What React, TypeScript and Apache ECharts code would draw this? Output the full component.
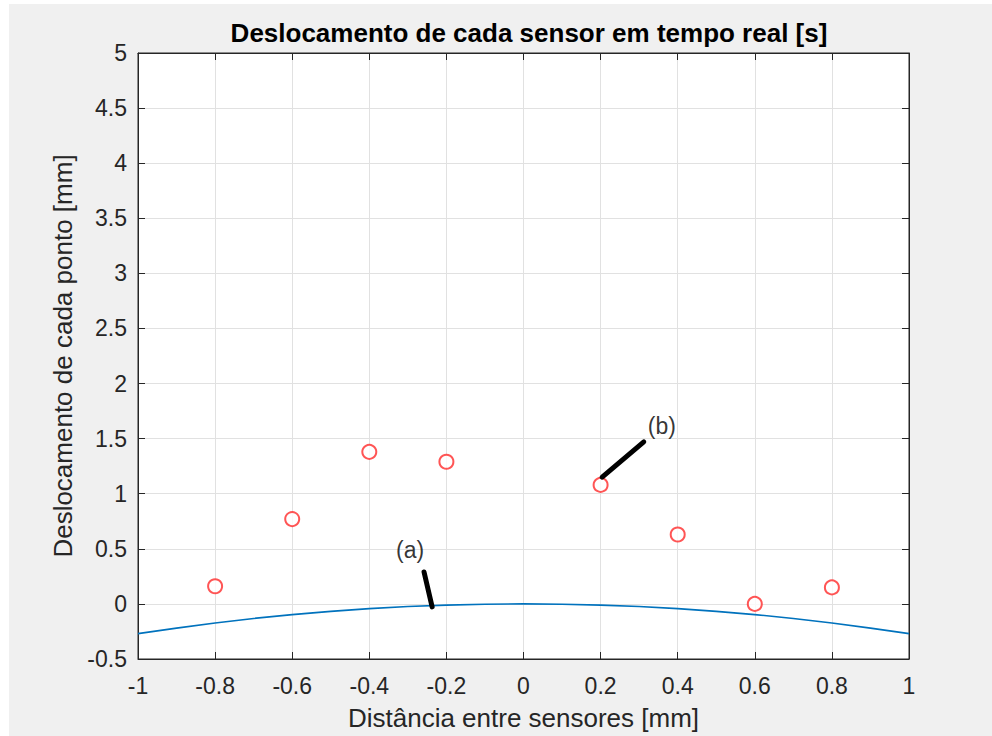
import React, { useEffect, useRef } from "react";
import * as echarts from "echarts";

const sensorX = [-0.8, -0.6, -0.4, -0.2, 0.2, 0.4, 0.6, 0.8];
const sensorY = [0.16, 0.77, 1.38, 1.29, 1.08, 0.63, 0.0, 0.15];

const curveX = [-1, -0.9, -0.8, -0.7, -0.6, -0.5, -0.4, -0.3, -0.2, -0.1, 0, 0.1, 0.2, 0.3, 0.4, 0.5, 0.6, 0.7, 0.8, 0.9, 1];
const curveY = [-0.27, -0.22, -0.173, -0.132, -0.097, -0.068, -0.043, -0.024, -0.011, -0.003, 0, -0.003, -0.011, -0.024, -0.043, -0.068, -0.097, -0.132, -0.173, -0.22, -0.27];

const arrowA = [[-0.258, 0.29], [-0.237, -0.027]];
const arrowB = [[0.204, 1.15], [0.312, 1.47]];
const labelA = { text: "(a)", x: -0.294, y: 0.49 };
const labelB = { text: "(b)", x: 0.359, y: 1.615 };

const FONT = "Liberation Sans, Arial, Helvetica, sans-serif";

export default function App() {
  const ref = useRef<HTMLDivElement>(null);
  useEffect(() => {
    if (!ref.current) return;
    const chart = echarts.init(ref.current, undefined, { renderer: "svg" });
    const axisCommon = {
      type: "value",
      axisLine: { show: true, onZero: false, lineStyle: { color: "#262626", width: 1 } },
      axisTick: { show: true, inside: true, length: 7, lineStyle: { color: "#262626" } },
    };
    const fmt = (v: number) => String(Math.round(v * 10) / 10);
    chart.setOption({
      animation: false,
      backgroundColor: "#ffffff",
      graphic: [
        {
          type: "rect",
          z: -10,
          silent: true,
          shape: { x: 9, y: 4, width: 992, height: 740 },
          style: { fill: "#f0f0f0" },
        },
      ],
      title: {
        text: "Deslocamento de cada sensor em tempo real [s]",
        left: 524,
        textAlign: "center",
        top: 15,
        textStyle: { fontFamily: FONT, fontSize: 26, fontWeight: "bold", color: "#000" },
      },
      grid: {
        left: 138,
        right: 83,
        top: 53,
        bottom: 77,
        outerBoundsMode: "none",
        containLabel: false,
        show: true,
        backgroundColor: "#ffffff",
        borderColor: "#262626",
        borderWidth: 1,
      },
      xAxis: [
        {
          ...axisCommon,
          position: "bottom",
          min: -1,
          max: 1,
          interval: 0.2,
          name: "Distância entre sensores [mm]",
          nameLocation: "middle",
          nameGap: 46,
          nameTextStyle: { fontFamily: FONT, fontSize: 26, color: "#262626" },
          axisLabel: {
            fontFamily: FONT,
            fontSize: 23,
            color: "#262626",
            margin: 15,
            formatter: fmt,
          },
          splitLine: { show: true, lineStyle: { color: "#e1e1e1", width: 1 } },
        },
        {
          ...axisCommon,
          position: "top",
          min: -1,
          max: 1,
          interval: 0.2,
          axisLabel: { show: false },
          splitLine: { show: false },
        },
      ],
      yAxis: [
        {
          ...axisCommon,
          position: "left",
          min: -0.5,
          max: 5,
          interval: 0.5,
          name: "Deslocamento de cada ponto [mm]",
          nameLocation: "middle",
          nameGap: 55,
          nameTextStyle: { fontFamily: FONT, fontSize: 26, color: "#262626" },
          axisLabel: {
            fontFamily: FONT,
            fontSize: 23,
            color: "#262626",
            margin: 11,
            formatter: fmt,
          },
          splitLine: { show: true, lineStyle: { color: "#e1e1e1", width: 1 } },
        },
        {
          ...axisCommon,
          position: "right",
          min: -0.5,
          max: 5,
          interval: 0.5,
          axisLabel: { show: false },
          splitLine: { show: false },
        },
      ],
      series: [
        {
          type: "line",
          data: curveX.map((x, i) => [x, curveY[i]]),
          showSymbol: false,
          symbol: "none",
          lineStyle: { color: "#0072BD", width: 1.6 },
          z: 3,
        },
        {
          type: "scatter",
          data: sensorX.map((x, i) => [x, sensorY[i]]),
          symbol: "emptyCircle",
          symbolSize: 14,
          itemStyle: { color: "#ff2a2a", borderColor: "#ff2a2a", borderWidth: 1.5 },
          z: 4,
        },
        {
          type: "line",
          data: arrowA,
          showSymbol: false,
          symbol: "none",
          lineStyle: { color: "#000", width: 5, cap: "round" },
          z: 5,
        },
        {
          type: "line",
          data: arrowB,
          showSymbol: false,
          symbol: "none",
          lineStyle: { color: "#000", width: 5, cap: "round" },
          z: 5,
        },
        {
          type: "scatter",
          data: [
            { value: [labelA.x, labelA.y], name: labelA.text },
            { value: [labelB.x, labelB.y], name: labelB.text },
          ],
          symbolSize: 1,
          itemStyle: { color: "transparent" },
          label: {
            show: true,
            position: "inside",
            formatter: (p: any) => p.name,
            fontFamily: FONT,
            fontSize: 23,
            color: "#000",
          },
          z: 6,
        },
      ],
    });
    return () => chart.dispose();
  }, []);
  return (
    <div style={{ position: "absolute", left: 0, top: 0, width: 992, height: 736 }}>
      <div ref={ref} style={{ width: 992, height: 736 }} />
    </div>
  );
}
